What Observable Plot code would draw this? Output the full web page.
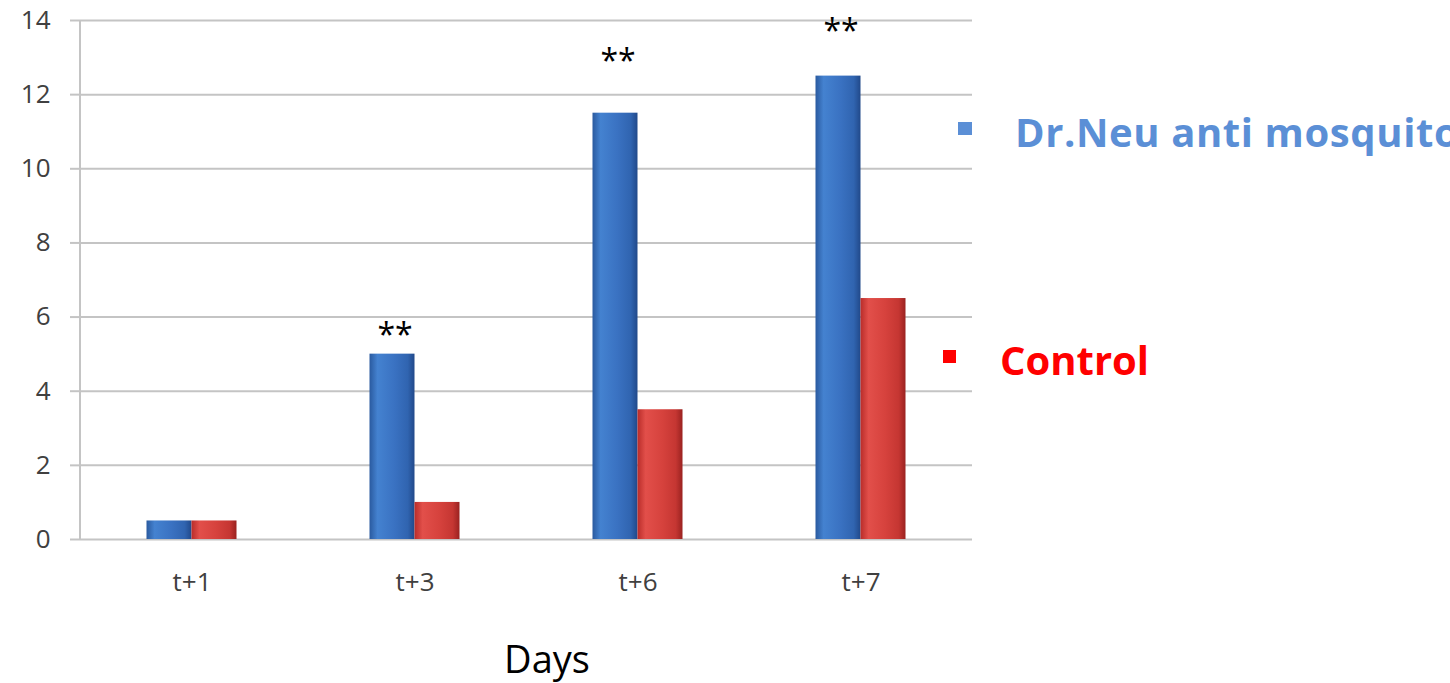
<!DOCTYPE html>
<html>
<head>
<meta charset="utf-8">
<script src="https://cdn.jsdelivr.net/npm/d3@7"></script>
<script src="https://cdn.jsdelivr.net/npm/@observablehq/plot@0.6"></script>
<style>
  html, body { margin: 0; padding: 0; background: #fff; overflow: hidden; }
  #chart { position: relative; width: 1450px; height: 683px; }
</style>
</head>
<body>
<div id="chart"></div>
<script>
// ---- data ----
const days = ["t+1", "t+3", "t+6", "t+7"];
const treated = [0.5, 5, 11.5, 12.5];
const control = [0.5, 1, 3.5, 6.5];
const sigLabels = ["", "**", "**", "**"];
const sigY = [null, 5.5, 12.9, 13.7];
const seriesNames = ["Dr.Neu anti mosquito", "Control"];
const seriesColors = ["#5b8fd6", "#ff0000"];
const yTicks = [0, 2, 4, 6, 8, 10, 12, 14];
const xTitle = "Days";

// ---- layout ----
const W = 1450, H = 683;
const mL = 80, mR = 478, mT = 20, mB = 144;
const bw = (W - mL - mR) / days.length;
const barW = 45;

const treatedRows = days.map((d, i) => ({day: d, v: treated[i]}));
const controlRows = days.map((d, i) => ({day: d, v: control[i]}));
const sigRows = days.map((d, i) => ({day: d, y: sigY[i], label: sigLabels[i]})).filter(r => r.label);

const leftAxisLine = (index, scales, values, dimensions) => {
  const g = d3.create("svg:g");
  g.append("line")
    .attr("x1", dimensions.marginLeft).attr("x2", dimensions.marginLeft)
    .attr("y1", scales.y(yTicks[yTicks.length - 1])).attr("y2", scales.y(0))
    .attr("stroke", "#c4c4c4").attr("stroke-width", 2);
  return g.node();
};

const chart = Plot.plot({
  width: W, height: H,
  marginLeft: mL, marginRight: mR, marginTop: mT, marginBottom: mB,
  style: {fontFamily: "'Open Sans', sans-serif", background: "transparent"},
  x: {domain: days, padding: 0},
  y: {domain: [0, 14]},
  marks: [
    Plot.gridY(yTicks, {stroke: "#c4c4c4", strokeWidth: 2, strokeOpacity: 1}),
    Plot.axisY(yTicks, {tickSize: 10, tickPadding: 20, stroke: "#c4c4c4", strokeWidth: 2, fill: "#404040", fontSize: 26, label: null}),
    Plot.axisX({tickSize: 0, tickPadding: 33, fill: "#404040", fontSize: 26, label: null}),
    leftAxisLine,
    Plot.barY(treatedRows, {x: "day", y: "v", fill: "url(#gBlue)", insetLeft: bw / 2 - barW, insetRight: bw / 2}),
    Plot.barY(controlRows, {x: "day", y: "v", fill: "url(#gRed)", insetLeft: bw / 2, insetRight: bw / 2 - barW}),
    Plot.text(sigRows, {x: "day", y: "y", text: "label", dx: -20, fontSize: 32, fill: "#000"})
  ]
});

const svg = d3.select(chart);
const defs = svg.insert("defs", ":first-child");
function grad(id, stops) {
  const lg = defs.append("linearGradient").attr("id", id)
    .attr("x1", "0%").attr("x2", "100%").attr("y1", "0%").attr("y2", "0%");
  stops.forEach(([o, c]) => lg.append("stop").attr("offset", o).attr("stop-color", c));
}
grad("gBlue", [["0%", "#2a5a9f"], ["18%", "#4482d0"], ["55%", "#3a72c2"], ["85%", "#3064b0"], ["100%", "#21498a"]]);
grad("gRed", [["0%", "#b92d2a"], ["18%", "#e24f4a"], ["55%", "#d6423d"], ["85%", "#c53632"], ["100%", "#9a2220"]]);

// legend
const leg = svg.append("g").attr("font-family", "'Open Sans', sans-serif").attr("font-weight", "bold")
  .attr("font-size", 40).attr("text-anchor", "start");
leg.append("rect").attr("x", 958).attr("y", 122).attr("width", 14).attr("height", 13).attr("fill", seriesColors[0]);
leg.append("text").attr("x", 1015).attr("y", 147).attr("fill", seriesColors[0]).attr("letter-spacing", 0.6).text(seriesNames[0]);
leg.append("rect").attr("x", 943).attr("y", 350).attr("width", 13).attr("height", 13).attr("fill", seriesColors[1]);
leg.append("text").attr("x", 1000).attr("y", 375).attr("fill", seriesColors[1]).text(seriesNames[1]);

// x title
svg.append("text").attr("x", 547).attr("y", 673).attr("text-anchor", "middle")
  .attr("font-family", "'Open Sans', sans-serif").attr("font-size", 38).attr("fill", "#000").text(xTitle);

document.getElementById("chart").appendChild(chart);
</script>
</body>
</html>
